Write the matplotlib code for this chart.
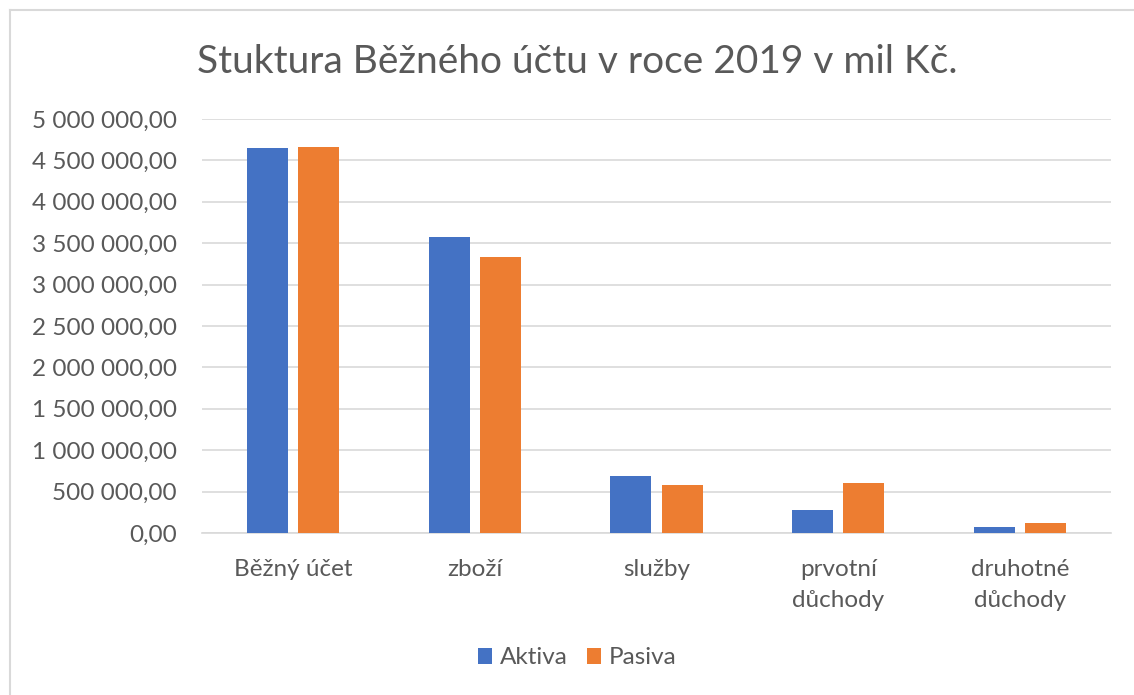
import matplotlib
matplotlib.use("Agg")
import matplotlib.pyplot as plt
from matplotlib.lines import Line2D
import numpy as np

categories = ["Běžný účet", "zboží", "služby", "prvotní\ndůchody", "druhotné\ndůchody"]
aktiva = [4646000, 3575000, 685000, 278000, 76000]
pasiva = [4665000, 3337000, 583000, 600000, 124000]
yticks = list(range(0, 5000001, 500000))

def fmt(v):
    s = f"{v:,.2f}"
    return s.replace(",", " ").replace(".", ",")

plt.rcParams['font.family'] = ['Lato', 'DejaVu Sans']
W, H = 1134, 695
fig = plt.figure(figsize=(W/100, H/100), dpi=100)
# chart border (left and top edges visible)
fig.add_artist(Line2D([9.5/W, 9.5/W], [0, 1 - 10/H], transform=fig.transFigure,
                      color="#d9d9d9", linewidth=1.5))
fig.add_artist(Line2D([9.5/W, 1], [1 - 10/H, 1 - 10/H], transform=fig.transFigure,
                      color="#d9d9d9", linewidth=1.5))

ax = fig.add_axes([202/W, 1 - 533/H, (1111-202)/W, (533-119)/H])

x = np.arange(len(categories))
w = 0.225
off = 0.141
ax.bar(x - off, aktiva, w, color="#4472C4", label="Aktiva", zorder=3)
ax.bar(x + off, pasiva, w, color="#ED7D31", label="Pasiva", zorder=3)

ax.set_xlim(-0.5, len(categories) - 0.5)
ax.set_ylim(0, 5000000)
ax.set_yticks(yticks)
ax.set_yticklabels([fmt(v) for v in yticks], fontsize=17.5, color="#595959")
ax.set_xticks(x)
ax.set_xticklabels(categories, fontsize=17.5, color="#595959", linespacing=1.55)
ax.tick_params(axis="y", length=0, pad=18)
ax.tick_params(axis="x", length=0, pad=19)
ax.grid(axis="y", color="#d9d9d9", linewidth=1.2, zorder=0)
for s in ["top", "right", "left"]:
    ax.spines[s].set_visible(False)
ax.spines["bottom"].set_color("#d9d9d9")
ax.spines["bottom"].set_linewidth(1.2)

fig.text(577/W, 1 - 62/H, "Stuktura Běžného účtu v roce 2019 v mil Kč.",
         ha="center", va="center", fontsize=28, color="#595959")

fig.legend(loc="center", bbox_to_anchor=(577/W, 1 - 658/H), ncol=2, frameon=False,
           fontsize=17.5, labelcolor="#595959", handlelength=0.6, handleheight=0.6,
           columnspacing=0.8, handletextpad=0.3)

fig.savefig("out.png", dpi=100)
